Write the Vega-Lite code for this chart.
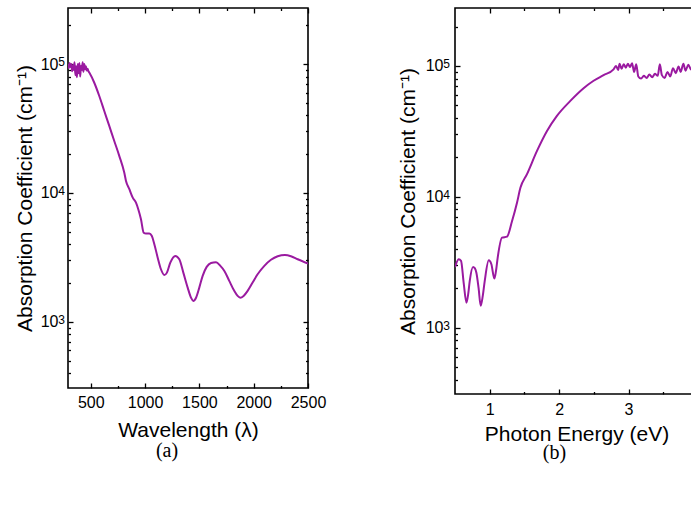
{
  "$schema": "https://vega.github.io/schema/vega-lite/v6.json",
  "background": "white",
  "padding": {"left": 13, "top": 6, "right": 0, "bottom": 5},
  "config": {
    "font": "Liberation Sans",
    "view": {"stroke": "black", "strokeWidth": 1.6},
    "axis": {"labelColor": "black", "titleColor": "black", "labelFontSize": 16, "titleFontSize": 21, "titleFontWeight": "normal", "labelFlush": false, "grid": false, "tickColor": "black", "tickWidth": 1.3, "domain": false}
  },
  "datasets": {
    "a": [
      {"wavelength": 292, "alpha": 100000}, {"wavelength": 298, "alpha": 93000}, {"wavelength": 305, "alpha": 102000}, {"wavelength": 312, "alpha": 95000},
      {"wavelength": 320, "alpha": 100000}, {"wavelength": 328, "alpha": 88000}, {"wavelength": 335, "alpha": 98000}, {"wavelength": 342, "alpha": 90000},
      {"wavelength": 350, "alpha": 103000}, {"wavelength": 358, "alpha": 82000}, {"wavelength": 365, "alpha": 96000}, {"wavelength": 372, "alpha": 79000},
      {"wavelength": 380, "alpha": 100000}, {"wavelength": 388, "alpha": 85000}, {"wavelength": 395, "alpha": 102000}, {"wavelength": 402, "alpha": 80000},
      {"wavelength": 410, "alpha": 97000}, {"wavelength": 418, "alpha": 90000}, {"wavelength": 425, "alpha": 103000}, {"wavelength": 432, "alpha": 87000},
      {"wavelength": 440, "alpha": 100000}, {"wavelength": 448, "alpha": 91000}, {"wavelength": 455, "alpha": 96000}, {"wavelength": 462, "alpha": 89000},
      {"wavelength": 470, "alpha": 92000}, {"wavelength": 478, "alpha": 88000}, {"wavelength": 486, "alpha": 85800},
      {"wavelength": 532, "alpha": 71600}, {"wavelength": 578, "alpha": 56500}, {"wavelength": 624, "alpha": 43200}, {"wavelength": 670, "alpha": 33100},
      {"wavelength": 716, "alpha": 25300}, {"wavelength": 762, "alpha": 19400}, {"wavelength": 808, "alpha": 14400}, {"wavelength": 824, "alpha": 12400},
      {"wavelength": 855, "alpha": 10700}, {"wavelength": 886, "alpha": 9200}, {"wavelength": 916, "alpha": 8400}, {"wavelength": 937, "alpha": 7480},
      {"wavelength": 962, "alpha": 6250}, {"wavelength": 987, "alpha": 4920}, {"wavelength": 1008, "alpha": 4840}, {"wavelength": 1039, "alpha": 4840},
      {"wavelength": 1061, "alpha": 4650}, {"wavelength": 1085, "alpha": 4000}, {"wavelength": 1116, "alpha": 3150}, {"wavelength": 1146, "alpha": 2560},
      {"wavelength": 1177, "alpha": 2310}, {"wavelength": 1201, "alpha": 2410}, {"wavelength": 1232, "alpha": 2880}, {"wavelength": 1278, "alpha": 3250},
      {"wavelength": 1315, "alpha": 3060}, {"wavelength": 1352, "alpha": 2410}, {"wavelength": 1392, "alpha": 1845}, {"wavelength": 1423, "alpha": 1540},
      {"wavelength": 1444, "alpha": 1455}, {"wavelength": 1469, "alpha": 1540}, {"wavelength": 1499, "alpha": 1845}, {"wavelength": 1530, "alpha": 2275},
      {"wavelength": 1567, "alpha": 2670}, {"wavelength": 1607, "alpha": 2865}, {"wavelength": 1653, "alpha": 2900}, {"wavelength": 1693, "alpha": 2720},
      {"wavelength": 1730, "alpha": 2485}, {"wavelength": 1775, "alpha": 2080}, {"wavelength": 1821, "alpha": 1740}, {"wavelength": 1852, "alpha": 1590},
      {"wavelength": 1876, "alpha": 1540}, {"wavelength": 1907, "alpha": 1590}, {"wavelength": 1944, "alpha": 1740}, {"wavelength": 1990, "alpha": 2020},
      {"wavelength": 2036, "alpha": 2340}, {"wavelength": 2098, "alpha": 2720}, {"wavelength": 2159, "alpha": 3030}, {"wavelength": 2221, "alpha": 3230},
      {"wavelength": 2288, "alpha": 3300}, {"wavelength": 2343, "alpha": 3230}, {"wavelength": 2405, "alpha": 3060}, {"wavelength": 2500, "alpha": 2830}
    ],
    "b": [
      {"energy": 0.5, "alpha": 2900}, {"energy": 0.554, "alpha": 3330}, {"energy": 0.587, "alpha": 3240}, {"energy": 0.625, "alpha": 2200},
      {"energy": 0.665, "alpha": 1550}, {"energy": 0.69, "alpha": 1800}, {"energy": 0.712, "alpha": 2270}, {"energy": 0.76, "alpha": 2910},
      {"energy": 0.785, "alpha": 2850}, {"energy": 0.808, "alpha": 2630}, {"energy": 0.84, "alpha": 2000}, {"energy": 0.87, "alpha": 1470},
      {"energy": 0.9, "alpha": 1750}, {"energy": 0.928, "alpha": 2270}, {"energy": 0.986, "alpha": 3270}, {"energy": 1.024, "alpha": 3050},
      {"energy": 1.067, "alpha": 2370}, {"energy": 1.09, "alpha": 2700}, {"energy": 1.115, "alpha": 3430}, {"energy": 1.177, "alpha": 4870},
      {"energy": 1.249, "alpha": 4960}, {"energy": 1.321, "alpha": 6500}, {"energy": 1.393, "alpha": 9000}, {"energy": 1.442, "alpha": 11700},
      {"energy": 1.537, "alpha": 14900}, {"energy": 1.681, "alpha": 22400}, {"energy": 1.825, "alpha": 31800}, {"energy": 1.968, "alpha": 41500},
      {"energy": 2.161, "alpha": 54000}, {"energy": 2.352, "alpha": 67500}, {"energy": 2.496, "alpha": 77000}, {"energy": 2.64, "alpha": 85000},
      {"energy": 2.784, "alpha": 94000}, {"energy": 2.82, "alpha": 100000}, {"energy": 2.85, "alpha": 93000}, {"energy": 2.87, "alpha": 104000},
      {"energy": 2.9, "alpha": 95000}, {"energy": 2.93, "alpha": 103000}, {"energy": 2.96, "alpha": 97000}, {"energy": 2.99, "alpha": 104000},
      {"energy": 3.02, "alpha": 98000}, {"energy": 3.05, "alpha": 105000}, {"energy": 3.08, "alpha": 90000}, {"energy": 3.11, "alpha": 103000},
      {"energy": 3.14, "alpha": 83000}, {"energy": 3.18, "alpha": 80000}, {"energy": 3.22, "alpha": 84000}, {"energy": 3.26, "alpha": 81000},
      {"energy": 3.3, "alpha": 86000}, {"energy": 3.34, "alpha": 82000}, {"energy": 3.38, "alpha": 87000}, {"energy": 3.42, "alpha": 84000},
      {"energy": 3.45, "alpha": 103000}, {"energy": 3.48, "alpha": 85000}, {"energy": 3.52, "alpha": 81000}, {"energy": 3.56, "alpha": 90000},
      {"energy": 3.6, "alpha": 83000}, {"energy": 3.64, "alpha": 96000}, {"energy": 3.68, "alpha": 88000}, {"energy": 3.72, "alpha": 99000},
      {"energy": 3.75, "alpha": 90000}, {"energy": 3.79, "alpha": 104000}, {"energy": 3.82, "alpha": 92000}, {"energy": 3.86, "alpha": 102000},
      {"energy": 3.9, "alpha": 94000}, {"energy": 3.94, "alpha": 103000}, {"energy": 3.97, "alpha": 95000}, {"energy": 4.0, "alpha": 100000}
    ]
  },
  "spacing": 69,
  "hconcat": [
    {
      "width": 240,
      "height": 380,
      "data": {"name": "a"},
      "title": {"text": "(a)", "orient": "bottom", "font": "Liberation Serif", "fontSize": 20, "fontWeight": "normal", "color": "black", "offset": 1, "anchor": "middle", "dx": -21},
      "resolve": {"axis": {"x": "independent", "y": "independent"}},
      "layer": [
        {
          "mark": {"type": "line", "color": "#9a1aa0", "strokeWidth": 2, "interpolate": "monotone", "clip": true},
          "encoding": {
            "x": {"field": "wavelength", "type": "quantitative", "scale": {"domain": [290, 2500], "nice": false, "zero": false},
                  "axis": {"orient": "bottom", "title": "Wavelength (λ)", "values": [500, 1000, 1500, 2000, 2500], "format": "d", "ticks": false, "labelPadding": 6, "titlePadding": 9}},
            "y": {"field": "alpha", "type": "quantitative", "scale": {"type": "log", "domain": [307, 272000], "nice": false},
                  "axis": {"orient": "left", "title": "Absorption Coefficient (cm⁻¹)", "values": [1000, 10000, 100000], "labelExpr": "'10'", "ticks": false, "labelPadding": 10, "titlePadding": 5}}
          }
        },
        {
          "mark": {"type": "point", "opacity": 0},
          "encoding": {
            "x": {"field": "wavelength", "type": "quantitative", "scale": {"domain": [290, 2500], "nice": false, "zero": false},
                  "axis": {"orient": "bottom", "title": null, "values": [500, 1000, 1500, 2000, 2500], "labels": false, "offset": -5, "tickSize": 5}},
            "y": {"field": "alpha", "type": "quantitative", "scale": {"type": "log", "domain": [307, 272000], "nice": false},
                  "axis": {"orient": "left", "title": null, "values": [1000, 10000, 100000], "labelExpr": "datum.value === 1000 ? '3' : datum.value === 10000 ? '4' : '5'", "ticks": false, "labelFontSize": 12, "labelPadding": 3.5, "labelOffset": -2.5}}
          }
        },
        {
          "mark": {"type": "point", "opacity": 0},
          "encoding": {
            "x": {"field": "wavelength", "type": "quantitative", "scale": {"domain": [290, 2500], "nice": false, "zero": false},
                  "axis": {"orient": "top", "title": null, "values": [500, 1000, 1500, 2000, 2500], "labels": false, "offset": -5, "tickSize": 5}},
            "y": {"field": "alpha", "type": "quantitative", "scale": {"type": "log", "domain": [307, 272000], "nice": false},
                  "axis": {"orient": "right", "title": null, "values": [1000, 10000, 100000], "labels": false, "offset": -5, "tickSize": 5}}
          }
        },
        {
          "mark": {"type": "point", "opacity": 0},
          "encoding": {
            "x": {"field": "wavelength", "type": "quantitative", "scale": {"domain": [290, 2500], "nice": false, "zero": false},
                  "axis": {"orient": "bottom", "title": null, "values": [750, 1250, 1750, 2250], "labels": false, "offset": -2.5, "tickSize": 2.5}},
            "y": {"field": "alpha", "type": "quantitative", "scale": {"type": "log", "domain": [307, 272000], "nice": false},
                  "axis": {"orient": "left", "title": null, "values": [400, 500, 600, 700, 800, 900, 2000, 3000, 4000, 5000, 6000, 7000, 8000, 9000, 20000, 30000, 40000, 50000, 60000, 70000, 80000, 90000, 200000], "labels": false, "offset": -2.5, "tickSize": 2.5}}
          }
        },
        {
          "mark": {"type": "point", "opacity": 0},
          "encoding": {
            "x": {"field": "wavelength", "type": "quantitative", "scale": {"domain": [290, 2500], "nice": false, "zero": false},
                  "axis": {"orient": "top", "title": null, "values": [750, 1250, 1750, 2250], "labels": false, "offset": -2.5, "tickSize": 2.5}},
            "y": {"field": "alpha", "type": "quantitative", "scale": {"type": "log", "domain": [307, 272000], "nice": false},
                  "axis": {"orient": "right", "title": null, "values": [400, 500, 600, 700, 800, 900, 2000, 3000, 4000, 5000, 6000, 7000, 8000, 9000, 20000, 30000, 40000, 50000, 60000, 70000, 80000, 90000, 200000], "labels": false, "offset": -2.5, "tickSize": 2.5}}
          }
        },
        {
          "mark": {"type": "point", "opacity": 0},
          "encoding": {
            "x": {"field": "wavelength", "type": "quantitative", "scale": {"domain": [290, 2500], "nice": false, "zero": false}, "axis": null},
            "y": {"field": "alpha", "type": "quantitative", "scale": {"type": "log", "domain": [307, 272000], "nice": false},
                  "axis": {"orient": "left", "title": null, "values": [1000, 10000, 100000], "labels": false, "offset": -5, "tickSize": 5}}
          }
        }
      ]
    },
    {
      "width": 243,
      "height": 386,
      "data": {"name": "b"},
      "title": {"text": "(b)", "orient": "bottom", "font": "Liberation Serif", "fontSize": 20, "fontWeight": "normal", "color": "black", "offset": -1, "anchor": "middle", "dx": -22},
      "resolve": {"axis": {"x": "independent", "y": "independent"}},
      "layer": [
        {
          "mark": {"type": "line", "color": "#9a1aa0", "strokeWidth": 2, "interpolate": "monotone", "clip": true},
          "encoding": {
            "x": {"field": "energy", "type": "quantitative", "scale": {"domain": [0.5, 4.0], "nice": false, "zero": false},
                  "axis": {"orient": "bottom", "title": "Photon Energy (eV)", "values": [1, 2, 3, 4], "format": "d", "ticks": false, "labelPadding": 7, "titlePadding": 6}},
            "y": {"field": "alpha", "type": "quantitative", "scale": {"type": "log", "domain": [311, 277000], "nice": false},
                  "axis": {"orient": "left", "title": "Absorption Coefficient (cm⁻¹)", "values": [1000, 10000, 100000], "labelExpr": "'10'", "ticks": false, "labelPadding": 12, "titlePadding": 7}}
          }
        },
        {
          "mark": {"type": "point", "opacity": 0},
          "encoding": {
            "x": {"field": "energy", "type": "quantitative", "scale": {"domain": [0.5, 4.0], "nice": false, "zero": false},
                  "axis": {"orient": "bottom", "title": null, "values": [1, 2, 3, 4], "labels": false, "offset": -5, "tickSize": 5}},
            "y": {"field": "alpha", "type": "quantitative", "scale": {"type": "log", "domain": [311, 277000], "nice": false},
                  "axis": {"orient": "left", "title": null, "values": [1000, 10000, 100000], "labelExpr": "datum.value === 1000 ? '3' : datum.value === 10000 ? '4' : '5'", "ticks": false, "labelFontSize": 12, "labelPadding": 5.5, "labelOffset": -2.5}}
          }
        },
        {
          "mark": {"type": "point", "opacity": 0},
          "encoding": {
            "x": {"field": "energy", "type": "quantitative", "scale": {"domain": [0.5, 4.0], "nice": false, "zero": false},
                  "axis": {"orient": "top", "title": null, "values": [1, 2, 3, 4], "labels": false, "offset": -5, "tickSize": 5}},
            "y": {"field": "alpha", "type": "quantitative", "scale": {"type": "log", "domain": [311, 277000], "nice": false},
                  "axis": {"orient": "right", "title": null, "values": [1000, 10000, 100000], "labels": false, "offset": -5, "tickSize": 5}}
          }
        },
        {
          "mark": {"type": "point", "opacity": 0},
          "encoding": {
            "x": {"field": "energy", "type": "quantitative", "scale": {"domain": [0.5, 4.0], "nice": false, "zero": false},
                  "axis": {"orient": "bottom", "title": null, "values": [1.5, 2.5, 3.5], "labels": false, "offset": -2.5, "tickSize": 2.5}},
            "y": {"field": "alpha", "type": "quantitative", "scale": {"type": "log", "domain": [311, 277000], "nice": false},
                  "axis": {"orient": "left", "title": null, "values": [400, 500, 600, 700, 800, 900, 2000, 3000, 4000, 5000, 6000, 7000, 8000, 9000, 20000, 30000, 40000, 50000, 60000, 70000, 80000, 90000, 200000], "labels": false, "offset": -2.5, "tickSize": 2.5}}
          }
        },
        {
          "mark": {"type": "point", "opacity": 0},
          "encoding": {
            "x": {"field": "energy", "type": "quantitative", "scale": {"domain": [0.5, 4.0], "nice": false, "zero": false},
                  "axis": {"orient": "top", "title": null, "values": [1.5, 2.5, 3.5], "labels": false, "offset": -2.5, "tickSize": 2.5}},
            "y": {"field": "alpha", "type": "quantitative", "scale": {"type": "log", "domain": [311, 277000], "nice": false},
                  "axis": {"orient": "right", "title": null, "values": [400, 500, 600, 700, 800, 900, 2000, 3000, 4000, 5000, 6000, 7000, 8000, 9000, 20000, 30000, 40000, 50000, 60000, 70000, 80000, 90000, 200000], "labels": false, "offset": -2.5, "tickSize": 2.5}}
          }
        },
        {
          "mark": {"type": "point", "opacity": 0},
          "encoding": {
            "x": {"field": "energy", "type": "quantitative", "scale": {"domain": [0.5, 4.0], "nice": false, "zero": false}, "axis": null},
            "y": {"field": "alpha", "type": "quantitative", "scale": {"type": "log", "domain": [311, 277000], "nice": false},
                  "axis": {"orient": "left", "title": null, "values": [1000, 10000, 100000], "labels": false, "offset": -5, "tickSize": 5}}
          }
        }
      ]
    }
  ]
}
